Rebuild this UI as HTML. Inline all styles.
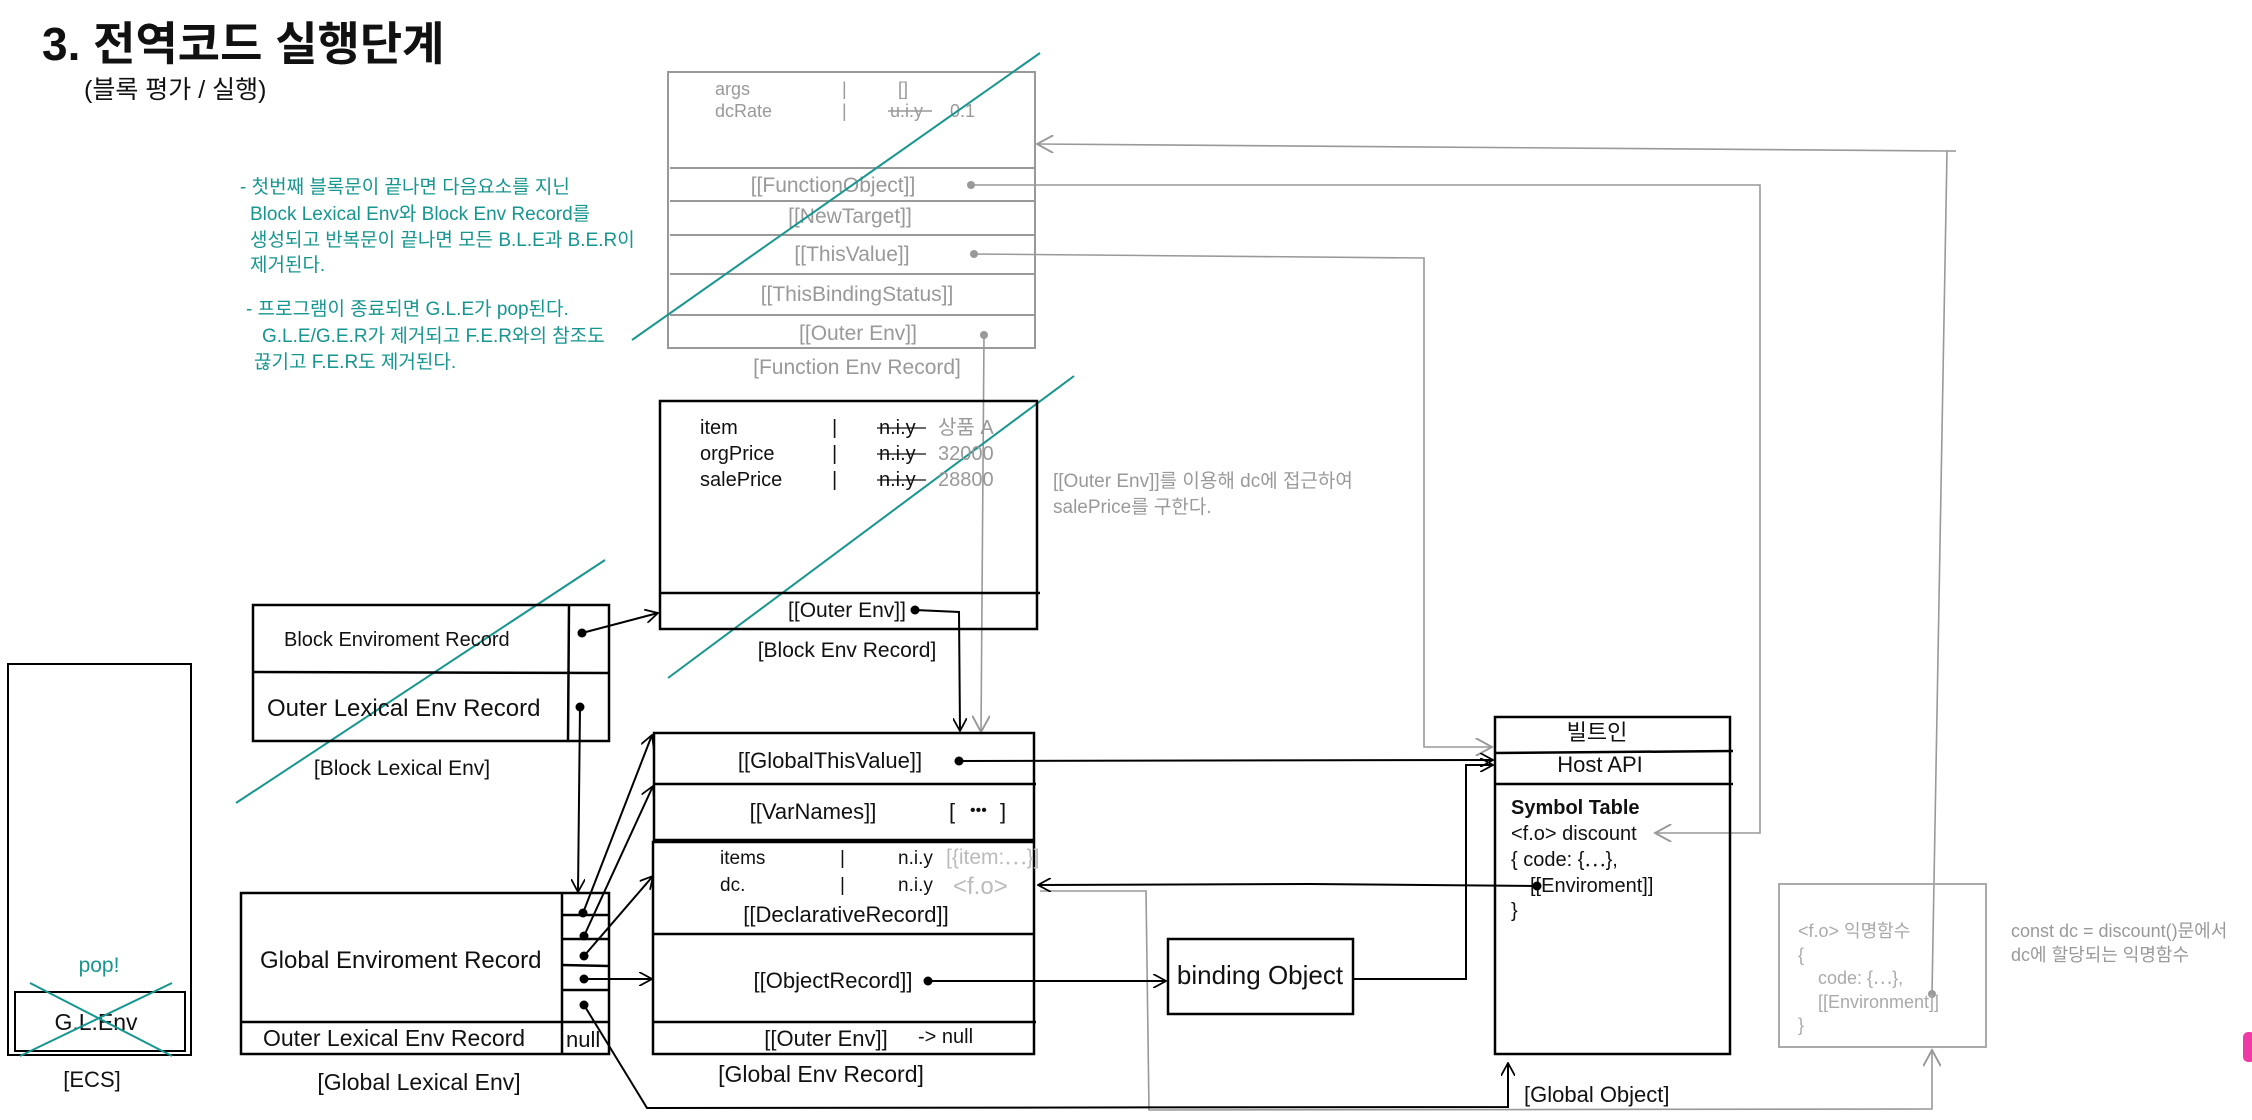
<!DOCTYPE html>
<html><head><meta charset="utf-8"><style>
html,body{margin:0;padding:0;background:#fff;}
svg{display:block;}
text{font-family:"Liberation Sans","Noto Sans CJK KR",sans-serif;}
</style></head><body>
<svg width="2252" height="1120" viewBox="0 0 2252 1120" xmlns="http://www.w3.org/2000/svg">
<defs>
<marker id="ab" viewBox="0 0 12 12" refX="11" refY="6" markerWidth="14" markerHeight="14" markerUnits="userSpaceOnUse" orient="auto"><path d="M0,0 L11,6 L0,12" fill="none" stroke="#000" stroke-width="1.5"/></marker>
<marker id="ag" viewBox="0 0 12 12" refX="11" refY="6" markerWidth="18" markerHeight="18" markerUnits="userSpaceOnUse" orient="auto"><path d="M0,0 L11,6 L0,12" fill="none" stroke="#999" stroke-width="1.3"/></marker>
</defs>

<!-- Title -->
<text x="42" y="60" font-size="46" font-weight="bold" fill="#111">3. 전역코드 실행단계</text>
<text x="84" y="98" font-size="25" fill="#111">(블록 평가 / 실행)</text>

<!-- Teal notes -->
<g fill="#16968f" font-size="19">
<text x="240" y="193">- 첫번째 블록문이 끝나면 다음요소를 지닌</text>
<text x="250" y="220">Block Lexical Env와 Block Env Record를</text>
<text x="250" y="246">생성되고 반복문이 끝나면 모든 B.L.E과 B.E.R이</text>
<text x="250" y="271">제거된다.</text>
<text x="246" y="315">- 프로그램이 종료되면 G.L.E가 pop된다.</text>
<text x="262" y="342">G.L.E/G.E.R가 제거되고 F.E.R와의 참조도</text>
<text x="254" y="368">끊기고 F.E.R도 제거된다.</text>
</g>

<!-- Function Env Record (gray) -->
<g stroke="#999" stroke-width="2" fill="none">
<rect x="668" y="72" width="367" height="276"/>
<line x1="670" y1="168" x2="1035" y2="168"/>
<line x1="670" y1="201" x2="1035" y2="201"/>
<line x1="670" y1="235" x2="1035" y2="235"/>
<line x1="670" y1="274" x2="1035" y2="274"/>
<line x1="670" y1="315" x2="1035" y2="315"/>
</g>
<g fill="#999" font-size="18">
<text x="715" y="95">args</text><text x="842" y="95">|</text><text x="898" y="95">[]</text>
<text x="715" y="117">dcRate</text><text x="842" y="117">|</text><text x="890" y="117">u.i.y</text><text x="950" y="117">0.1</text>
</g>
<line x1="888" y1="111" x2="932" y2="111" stroke="#999" stroke-width="1.5"/>
<g fill="#999" font-size="21" text-anchor="middle">
<text x="833" y="192">[[FunctionObject]]</text>
<text x="850" y="223">[[NewTarget]]</text>
<text x="852" y="261">[[ThisValue]]</text>
<text x="857" y="301">[[ThisBindingStatus]]</text>
<text x="858" y="340">[[Outer Env]]</text>
<text x="857" y="374">[Function Env Record]</text>
</g>
<g fill="#999"><circle cx="971" cy="185" r="4"/><circle cx="974" cy="254" r="4"/><circle cx="984" cy="335" r="4"/></g>

<!-- gray connectors -->
<g stroke="#999" stroke-width="1.6" fill="none">
<polyline points="971,185 1760,185 1760,833 1655,833" marker-end="url(#ag)"/>
<polyline points="974,254 1424,258 1424,747 1492,747" marker-end="url(#ag)"/>
<polyline points="1932,994 1947,151 1037,144" marker-end="url(#ag)"/>
<line x1="1947" y1="151" x2="1956" y2="151"/>
<polyline points="984,335 981,732" marker-end="url(#ag)"/>
<polyline points="1040,891 1146,891 1149,1110 1932,1109 1932,1050" marker-end="url(#ag)"/>
</g>
<circle cx="1932" cy="994" r="4" fill="#999"/>

<!-- teal diagonals -->
<g stroke="#16968f" stroke-width="2">
<line x1="632" y1="340" x2="1040" y2="53"/>
<line x1="668" y1="678" x2="1074" y2="376"/>
<line x1="236" y1="803" x2="605" y2="560"/>
</g>

<!-- Block Env Record -->
<g stroke="#000" stroke-width="2.5" fill="none">
<rect x="660" y="401" width="377" height="228"/>
<line x1="660" y1="593" x2="1040" y2="593"/>
</g>
<g font-size="20" fill="#111">
<text x="700" y="434">item</text><text x="700" y="460">orgPrice</text><text x="700" y="486">salePrice</text>
<text x="832" y="434">|</text><text x="832" y="460">|</text><text x="832" y="486">|</text>
<text x="879" y="434">n.i.y</text><text x="879" y="460">n.i.y</text><text x="879" y="486">n.i.y</text>
</g>
<g stroke="#111" stroke-width="1.3"><line x1="877" y1="428" x2="926" y2="428"/><line x1="877" y1="454" x2="926" y2="454"/><line x1="877" y1="480" x2="926" y2="480"/></g>
<g font-size="20" fill="#999"><text x="938" y="434">상품 A</text><text x="938" y="460">32000</text><text x="938" y="486">28800</text></g>
<text x="847" y="617" font-size="21" fill="#111" text-anchor="middle">[[Outer Env]]</text>
<circle cx="915" cy="610" r="4.5" fill="#000"/>
<text x="847" y="657" font-size="21" fill="#111" text-anchor="middle">[Block Env Record]</text>
<g font-size="19" fill="#999"><text x="1053" y="487">[[Outer Env]]를 이용해 dc에 접근하여</text><text x="1053" y="513">salePrice를 구한다.</text></g>

<!-- Block Lexical Env -->
<g stroke="#000" stroke-width="2.5" fill="none">
<rect x="253" y="605" width="356" height="136"/>
<line x1="253" y1="672" x2="609" y2="673"/>
<line x1="569" y1="605" x2="568" y2="741"/>
</g>
<text x="284" y="646" font-size="20" fill="#111">Block Enviroment Record</text>
<text x="267" y="716" font-size="24" fill="#111">Outer Lexical Env Record</text>
<circle cx="582" cy="633" r="4.5" fill="#000"/><circle cx="580" cy="707" r="4.5" fill="#000"/>
<text x="402" y="775" font-size="21" fill="#111" text-anchor="middle">[Block Lexical Env]</text>

<!-- ECS -->
<g stroke="#000" stroke-width="2" fill="none">
<rect x="8" y="664" width="183" height="391"/>
<rect x="15" y="992" width="170" height="59"/>
</g>
<text x="96" y="1030" font-size="23" fill="#111" text-anchor="middle">G.L.Env</text>
<g stroke="#16968f" stroke-width="2"><line x1="30" y1="983" x2="172" y2="1056"/><line x1="20" y1="1056" x2="172" y2="983"/></g>
<text x="99" y="972" font-size="21" fill="#16968f" text-anchor="middle">pop!</text>
<text x="92" y="1087" font-size="22" fill="#111" text-anchor="middle">[ECS]</text>

<!-- Global Lexical Env -->
<g stroke="#000" stroke-width="2.5" fill="none">
<rect x="241" y="893" width="368" height="161"/>
<line x1="241" y1="1022" x2="609" y2="1022"/>
<line x1="562" y1="893" x2="562" y2="1054"/>
<line x1="562" y1="915" x2="609" y2="915"/>
<line x1="562" y1="939" x2="609" y2="939"/>
<line x1="562" y1="965" x2="609" y2="966"/>
<line x1="562" y1="990" x2="609" y2="990"/>
</g>
<text x="260" y="968" font-size="24" fill="#111">Global Enviroment Record</text>
<text x="263" y="1046" font-size="23" fill="#111">Outer Lexical Env Record</text>
<text x="566" y="1047" font-size="22" fill="#111">null</text>
<g fill="#000"><circle cx="583" cy="913" r="4.5"/><circle cx="584" cy="936" r="4.5"/><circle cx="584" cy="956" r="4.5"/><circle cx="584" cy="979" r="4.5"/><circle cx="584" cy="1005" r="4.5"/></g>
<text x="419" y="1090" font-size="23" fill="#111" text-anchor="middle">[Global Lexical Env]</text>

<!-- Global Env Record -->
<g stroke="#000" stroke-width="2.5" fill="none">
<rect x="654" y="733" width="380" height="107"/>
<line x1="654" y1="784" x2="1036" y2="784"/>
<rect x="653" y="842" width="381" height="212"/>
<line x1="654" y1="934" x2="1034" y2="934"/>
<line x1="654" y1="1022" x2="1036" y2="1022"/>
</g>
<g font-size="22" fill="#111">
<text x="830" y="768" text-anchor="middle">[[GlobalThisValue]]</text>
<text x="813" y="819" text-anchor="middle">[[VarNames]]</text>
<text x="949" y="819">[</text><text x="970" y="815" font-size="16">•••</text><text x="1000" y="819">]</text>
<text x="846" y="922" text-anchor="middle">[[DeclarativeRecord]]</text>
<text x="833" y="988" text-anchor="middle">[[ObjectRecord]]</text>
<text x="826" y="1046" text-anchor="middle">[[Outer Env]]</text>
<text x="918" y="1043" font-size="20">-&gt; null</text>
</g>
<g font-size="19" fill="#111">
<text x="720" y="864">items</text><text x="720" y="891">dc.</text>
<text x="840" y="864">|</text><text x="840" y="891">|</text>
<text x="898" y="864">n.i.y</text><text x="898" y="891">n.i.y</text>
</g>
<g fill="#bbb"><text x="946" y="864" font-size="21">[{item:⋯}]</text><text x="953" y="894" font-size="24">&lt;f.o&gt;</text></g>
<circle cx="959" cy="761" r="4.5" fill="#000"/>
<circle cx="928" cy="981" r="4.5" fill="#000"/>
<text x="821" y="1082" font-size="23" fill="#111" text-anchor="middle">[Global Env Record]</text>

<!-- binding Object -->
<rect x="1168" y="939" width="185" height="75" fill="none" stroke="#000" stroke-width="2.5"/>
<text x="1260" y="984" font-size="26" fill="#111" text-anchor="middle">binding Object</text>

<!-- Global Object -->
<g stroke="#000" stroke-width="2.5" fill="none">
<rect x="1495" y="717" width="235" height="337"/>
<line x1="1495" y1="753" x2="1733" y2="751"/>
<line x1="1495" y1="784" x2="1733" y2="784"/>
</g>
<g fill="#111" font-size="20">
<text x="1597" y="740" text-anchor="middle" font-size="22">빌트인</text>
<text x="1600" y="772" text-anchor="middle" font-size="22">Host API</text>
<text x="1511" y="814" font-weight="bold">Symbol Table</text>
<text x="1511" y="840">&lt;f.o&gt; discount</text>
<text x="1511" y="866">{  code: {⋯},</text>
<text x="1530" y="892">[[Enviroment]]</text>
<text x="1511" y="917">}</text>
</g>
<circle cx="1537" cy="886" r="4.5" fill="#000"/>
<text x="1524" y="1102" font-size="22" fill="#111">[Global Object]</text>

<!-- Anonymous function box -->
<rect x="1779" y="884" width="207" height="163" fill="none" stroke="#aaa" stroke-width="2"/>
<g fill="#aaa" font-size="18">
<text x="1798" y="937">&lt;f.o&gt; 익명함수</text>
<text x="1798" y="961">{</text>
<text x="1818" y="984">code: {⋯},</text>
<text x="1818" y="1008">[[Environment]]</text>
<text x="1798" y="1031">}</text>
</g>
<g fill="#999" font-size="18"><text x="2011" y="937">const dc = discount()문에서</text><text x="2011" y="961">dc에 할당되는 익명함수</text></g>
<rect x="2243" y="1032" width="12" height="30" rx="5" fill="#f03aa5"/>

<!-- black connectors -->
<g stroke="#000" stroke-width="2" fill="none">
<line x1="582" y1="633" x2="658" y2="613" marker-end="url(#ab)"/>
<line x1="580" y1="707" x2="578" y2="892" marker-end="url(#ab)"/>
<polyline points="915,610 959,612 960,731" marker-end="url(#ab)"/>
<line x1="583" y1="913" x2="652" y2="735" marker-end="url(#ab)"/>
<line x1="584" y1="936" x2="653" y2="786" marker-end="url(#ab)"/>
<line x1="584" y1="956" x2="653" y2="876" marker-end="url(#ab)"/>
<line x1="584" y1="979" x2="652" y2="979" marker-end="url(#ab)"/>
<polyline points="584,1005 647,1108 1508,1107 1508,1063" marker-end="url(#ab)"/>
<line x1="959" y1="761" x2="1493" y2="760" marker-end="url(#ab)"/>
<line x1="928" y1="981" x2="1166" y2="981" marker-end="url(#ab)"/>
<polyline points="1353,979 1466,979 1466,765 1493,765" marker-end="url(#ab)"/>
<polyline points="1537,886 1310,884 1038,885" marker-end="url(#ab)"/>
</g>
</svg>
</body></html>
